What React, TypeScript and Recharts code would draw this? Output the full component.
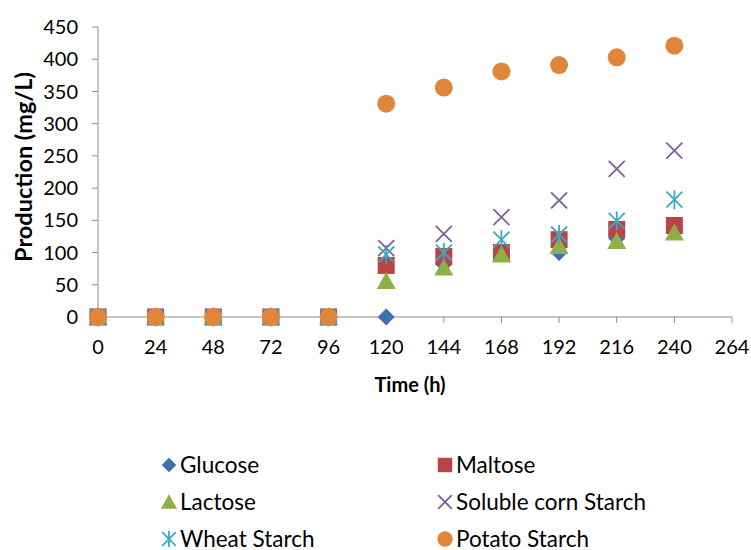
import { ScatterChart, Scatter, XAxis, YAxis, Legend } from 'recharts';

const times = [0, 24, 48, 72, 96, 120, 144, 168, 192, 216, 240];
const glucose = [0, 0, 0, 0, 0, 0, 82, 100, 100, 122, 135];
const maltose = [0, 0, 0, 0, 0, 80, 94, 100, 120, 136, 142];
const lactose = [0, 0, 0, 0, 0, 56, 77, 97, 110, 118, 131];
const solubleCorn = [0, 0, 0, 0, 0, 107, 129, 155, 181, 230, 258];
const wheat = [0, 0, 0, 0, 0, 97, 100, 120, 128, 149, 182];
const potato = [0, 0, 0, 0, 0, 331, 356, 381, 391, 403, 421];

const xTicks = [0, 24, 48, 72, 96, 120, 144, 168, 192, 216, 240, 264];
const yTicks = [0, 50, 100, 150, 200, 250, 300, 350, 400, 450];

const series = [
  { name: 'Glucose', values: glucose, kind: 'diamond', color: '#3F71B0' },
  { name: 'Maltose', values: maltose, kind: 'square', color: '#BA4343' },
  { name: 'Lactose', values: lactose, kind: 'triangle', color: '#8DB04B' },
  { name: 'Soluble corn Starch', values: solubleCorn, kind: 'x', color: '#7A5FA0' },
  { name: 'Wheat Starch', values: wheat, kind: 'star', color: '#3AA9C2' },
  { name: 'Potato Starch', values: potato, kind: 'circle', color: '#E0863A' },
];

const FONT = 'Lato, "Open Sans", sans-serif';

function marker(kind: string, cx: number, cy: number, color: string, s = 1) {
  switch (kind) {
    case 'diamond': {
      const h = 8.5 * s;
      return <polygon points={`${cx},${cy - h} ${cx + h},${cy} ${cx},${cy + h} ${cx - h},${cy}`} fill={color} />;
    }
    case 'square': {
      const h = 8.5 * s;
      return <rect x={cx - h} y={cy - h} width={2 * h} height={2 * h} fill={color} />;
    }
    case 'triangle': {
      const w = 9.5 * s;
      return <polygon points={`${cx},${cy - 9 * s} ${cx + w},${cy + 8 * s} ${cx - w},${cy + 8 * s}`} fill={color} />;
    }
    case 'x': {
      const h = 8 * s;
      return (
        <g stroke={color} strokeWidth={1.8}>
          <line x1={cx - h} y1={cy - h} x2={cx + h} y2={cy + h} />
          <line x1={cx - h} y1={cy + h} x2={cx + h} y2={cy - h} />
        </g>
      );
    }
    case 'star': {
      const h = 8 * s;
      return (
        <g stroke={color} strokeWidth={1.8}>
          <line x1={cx - h} y1={cy - h} x2={cx + h} y2={cy + h} />
          <line x1={cx - h} y1={cy + h} x2={cx + h} y2={cy - h} />
          <line x1={cx} y1={cy - 9.5 * s} x2={cx} y2={cy + 9.5 * s} />
        </g>
      );
    }
    default:
      return <circle cx={cx} cy={cy} r={9 * s} fill={color} />;
  }
}

function LegendBox() {
  return (
    <div
      style={{
        display: 'grid',
        gridTemplateColumns: '276px 290px',
        gridAutoRows: '37px',
        fontFamily: FONT,
        fontSize: 22.5,
        lineHeight: '26px',
        color: '#000',
      }}
    >
      {series.map((s) => (
        <div key={s.name} style={{ display: 'flex', alignItems: 'center', whiteSpace: 'nowrap' }}>
          <svg width={20} height={20} style={{ marginRight: 1 }}>
            {marker(s.kind, 10, 10, s.color, 0.85)}
          </svg>
          <span>{s.name}</span>
        </div>
      ))}
    </div>
  );
}

export default function App() {
  return (
    <div style={{ position: 'absolute', left: 0, top: 0, background: '#fff' }}>
      <ScatterChart width={751} height={550} margin={{ top: 27, right: 19, bottom: 0, left: 0 }}>
        <XAxis
          type="number"
          dataKey="x"
          domain={[0, 264]}
          ticks={xTicks}
          interval={0}
          height={233}
          stroke="#8C8C8C"
          tickSize={6}
          tickMargin={17}
          tick={{ fill: '#000', fontSize: 20, fontFamily: FONT }}
          label={{
            value: 'Time (h)',
            position: 'insideTop',
            offset: 61,
            dx: -5,
            fill: '#000',
            fontSize: 20,
            fontWeight: 700,
            fontFamily: FONT,
          }}
        />
        <YAxis
          type="number"
          dataKey="y"
          domain={[0, 450]}
          ticks={yTicks}
          interval={0}
          width={98}
          stroke="#8C8C8C"
          tickSize={6}
          tickMargin={14}
          tick={{ fill: '#000', fontSize: 20, fontFamily: FONT }}
          label={{
            content: (props: any) => {
              const vb = props.viewBox;
              const x = vb.x + 23;
              const y = vb.y + vb.height / 2 - 5;
              return (
                <text
                  x={x}
                  y={y}
                  transform={`rotate(-90, ${x}, ${y})`}
                  textAnchor="middle"
                  dominantBaseline="central"
                  fontSize={23.5}
                  fontWeight={700}
                  fontFamily={FONT}
                  fill="#000"
                >
                  Production (mg/L)
                </text>
              );
            },
          }}
        />
        <Legend
          verticalAlign="middle"
          layout="horizontal"
          content={() => <LegendBox />}
          wrapperStyle={{ top: 446, left: 159, width: 570 }}
        />
        {series.map((s) => (
          <Scatter
            key={s.name}
            name={s.name}
            data={times.map((t, i) => ({ x: t, y: s.values[i] }))}
            fill={s.color}
            isAnimationActive={false}
            shape={(p: any) => marker(s.kind, p.cx, p.cy, s.color)}
          />
        ))}
      </ScatterChart>
    </div>
  );
}
